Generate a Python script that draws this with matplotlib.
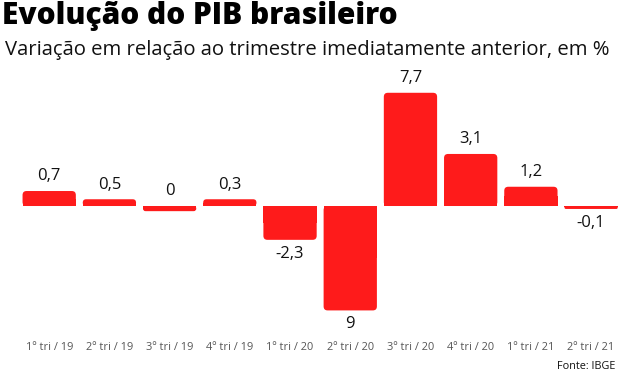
import matplotlib
matplotlib.use('Agg')
import matplotlib.pyplot as plt
from matplotlib.patches import FancyBboxPatch, Rectangle

plt.rcParams['font.family'] = ['Open Sans', 'DejaVu Sans']

quarters = ['1º tri / 19', '2º tri / 19', '3º tri / 19', '4º tri / 19',
            '1º tri / 20', '2º tri / 20', '3º tri / 20', '4º tri / 20',
            '1º tri / 21', '2º tri / 21']
# values as printed on the chart
labels = ['0,7', '0,5', '0', '0,3', '-2,3', '9', '7,7', '3,1', '1,2', '-0,1']
label_sign = [1, 1, 1, 1, -1, -1, 1, 1, 1, -1]
# bar lengths as drawn in the picture (not exactly to scale in the original)
heights = [1.02, 0.46, -0.35, 0.46, -2.3, -7.1, 7.7, 3.54, 1.31, -0.2]

RED = '#fe1b1b'

fig = plt.figure(figsize=(6.2, 3.71), dpi=100)
ax = fig.add_axes([0, 0, 1, 1])
ax.set_xlim(-0.817, 9.48)
ax.set_ylim(-11.22, 14.01)
ax.axis('off')

# pixel scale of data units
px_x = 620 / (9.48 + 0.817)
px_y = 371 / (14.01 + 11.22)

width = 0.885
for i, h in enumerate(heights):
    r_px = min(4.0, abs(h) * px_y / 2, width * px_x / 2)
    rx = r_px / px_x
    ry = r_px / px_y
    y0 = min(0, h)
    patch = FancyBboxPatch((i - width / 2, y0), width, abs(h),
                           boxstyle=f'round,pad=0,rounding_size={rx}',
                           mutation_aspect=ry / rx if rx > 0 else 1,
                           fc=RED, ec='none')
    ax.add_patch(patch)
    # square off the end that sits on the zero line
    ax.add_patch(Rectangle((i - width / 2, 0 if h > 0 else h / 2), width, abs(h) / 2,
                           fc=RED, ec='none'))

    if label_sign[i] > 0:
        ax.annotate(labels[i], (i, max(h, 0)), xytext=(0, 10.5), textcoords='offset points',
                    ha='center', va='center', fontsize=12, color='#111111')
    else:
        ax.annotate(labels[i], (i, min(h, 0)), xytext=(0, -10), textcoords='offset points',
                    ha='center', va='center', fontsize=12, color='#111111')

    ax.text(i, (206 - 347) / px_y, quarters[i], ha='center', va='center',
            fontsize=7.9, color='#555555')

fig.text(0.003, 0.934, 'Evolução do PIB brasileiro', ha='left', va='baseline',
         fontsize=21.5, fontweight='heavy', color='black')
fig.text(0.008, 0.852, 'Variação em relação ao trimestre imediatamente anterior, em %',
         ha='left', va='baseline', fontsize=14.6, color='#111111')
fig.text(0.992, 0.012, 'Fonte: IBGE', ha='right', va='center', fontsize=7.8, color='#111111')

fig.savefig('out.png', dpi=100)
